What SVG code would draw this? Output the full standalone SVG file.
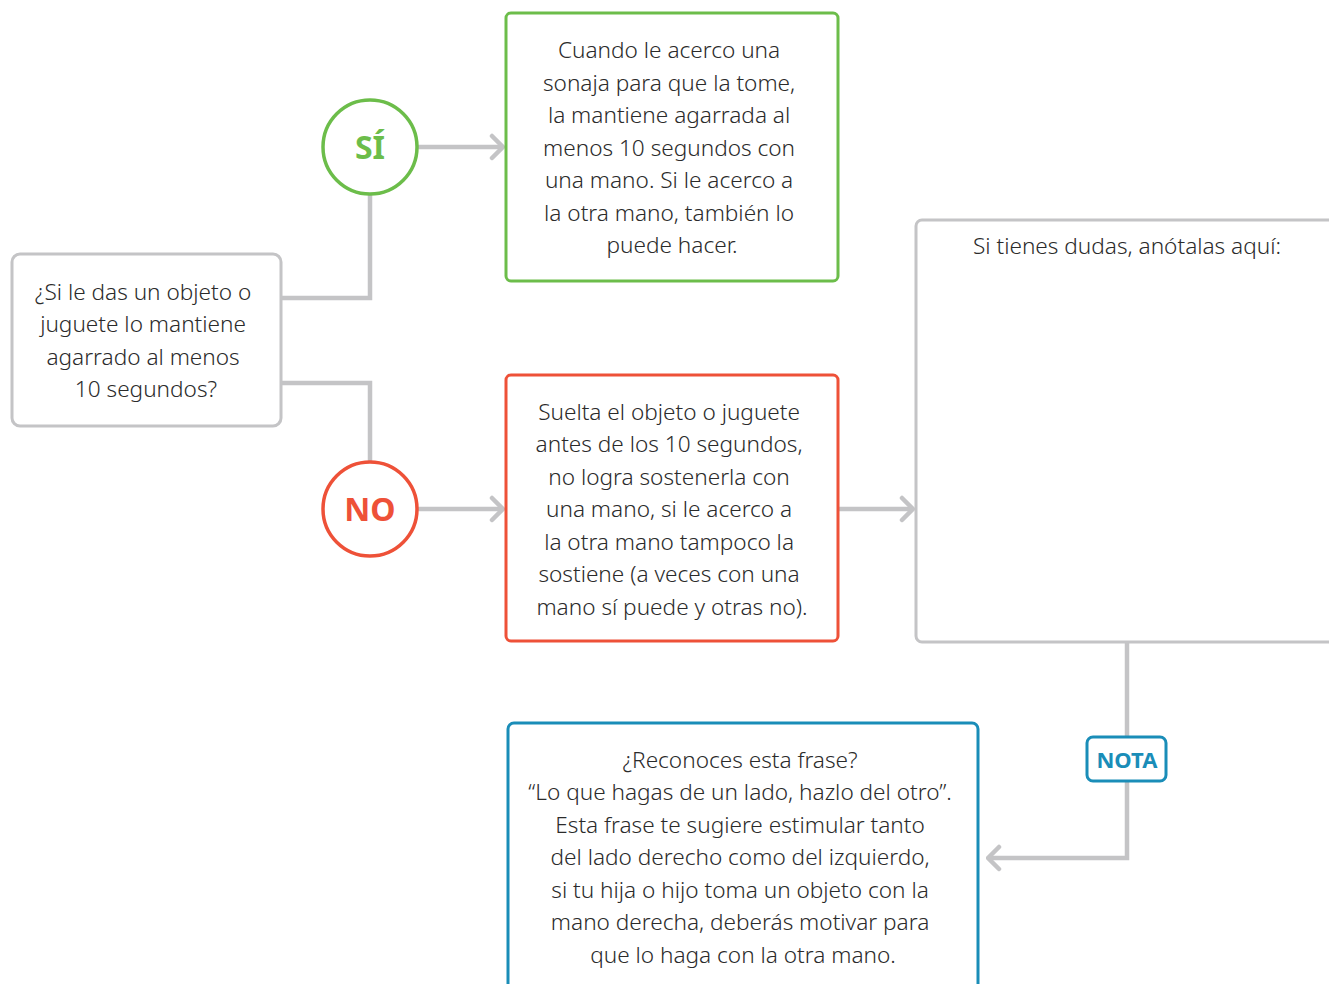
<svg xmlns="http://www.w3.org/2000/svg" width="1329" height="984" viewBox="0 0 1329 984">
  <style>
    .box { fill: #ffffff; stroke-width: 3; }
    .grey { stroke: #c4c4c6; }
    .txt { font-family: "Noto Sans", "Open Sans", sans-serif; font-weight: 300; font-size: 22.6px; fill: #2b2b2b; text-anchor: middle; }
    .badge { font-family: "Noto Sans", "Open Sans", sans-serif; font-weight: 700; text-anchor: middle; }
    .link { fill: none; stroke: #c4c4c6; stroke-width: 4.5; }
  </style>
  <defs>
    <marker id="chev" viewBox="0 0 16 28" refX="14" refY="14" markerWidth="16" markerHeight="28" markerUnits="userSpaceOnUse" orient="auto">
      <path d="M3 3 L14 14 L3 25" fill="none" stroke="#c4c4c6" stroke-width="4.5" stroke-linecap="round" stroke-linejoin="round"/>
    </marker>
  </defs>
  <rect width="1329" height="984" fill="#ffffff"/>

  <!-- connectors -->
  <g id="connectors">
    <path class="link" d="M281 298 H370 V194"/>
    <path class="link" d="M281 383 H370 V462"/>
    <path class="link" d="M417 147 H503" marker-end="url(#chev)"/>
    <path class="link" d="M417 509 H503" marker-end="url(#chev)"/>
    <path class="link" d="M838 509 H913" marker-end="url(#chev)"/>
    <path class="link" d="M1127 642 V737"/>
    <path class="link" d="M1127 781 V858 H988" marker-end="url(#chev)"/>
  </g>

  <!-- question -->
  <g id="question">
    <rect class="box grey" x="12" y="254" width="269" height="172" rx="8"/>
    <text class="txt">
      <tspan x="146" y="300">¿Si le das un objeto o</tspan>
      <tspan x="146" y="332">juguete lo mantiene</tspan>
      <tspan x="146" y="365">agarrado al menos</tspan>
      <tspan x="146" y="397">10 segundos?</tspan>
    </text>
  </g>

  <!-- yes branch -->
  <g id="yes">
    <circle cx="370" cy="147" r="47" fill="#ffffff" stroke="#6cbd4a" stroke-width="3.5"/>
    <text class="badge" x="370" y="159" font-size="32" fill="#6cbd4a">SÍ</text>
  </g>
  <g id="yes-result">
    <rect class="box" x="506" y="13" width="332" height="268" rx="5" stroke="#6cbd4a"/>
    <text class="txt">
      <tspan x="672" y="58">Cuando le acerco una</tspan>
      <tspan x="672" y="91">sonaja para que la tome,</tspan>
      <tspan x="672" y="123">la mantiene agarrada al</tspan>
      <tspan x="672" y="156">menos 10 segundos con</tspan>
      <tspan x="672" y="188">una mano. Si le acerco a</tspan>
      <tspan x="672" y="221">la otra mano, también lo</tspan>
      <tspan x="672" y="253">puede hacer.</tspan>
    </text>
  </g>

  <!-- no branch -->
  <g id="no">
    <circle cx="370" cy="509" r="47" fill="#ffffff" stroke="#ee5138" stroke-width="3.5"/>
    <text class="badge" x="370" y="521" font-size="32" fill="#ee5138">NO</text>
  </g>
  <g id="no-result">
    <rect class="box" x="506" y="375" width="332" height="266" rx="5" stroke="#ee5138"/>
    <text class="txt">
      <tspan x="672" y="420">Suelta el objeto o juguete</tspan>
      <tspan x="672" y="452">antes de los 10 segundos,</tspan>
      <tspan x="672" y="485">no logra sostenerla con</tspan>
      <tspan x="672" y="517">una mano, si le acerco a</tspan>
      <tspan x="672" y="550">la otra mano tampoco la</tspan>
      <tspan x="672" y="582">sostiene (a veces con una</tspan>
      <tspan x="672" y="615">mano sí puede y otras no).</tspan>
    </text>
  </g>

  <!-- notes area -->
  <g id="notes">
    <rect class="box grey" x="916" y="220" width="440" height="422" rx="6"/>
    <text class="txt" x="1127" y="254">Si tienes dudas, anótalas aquí:</text>
  </g>

  <!-- tip badge -->
  <g id="nota">
    <rect x="1087" y="737" width="79" height="44" rx="6" fill="#ffffff" stroke="#1a8db8" stroke-width="3"/>
    <text class="badge" x="1127" y="768" font-size="22" fill="#1a8db8">NOTA</text>
  </g>

  <!-- tip text -->
  <g id="tip">
    <rect class="box" x="508" y="723" width="470" height="290" rx="6" stroke="#1a8db8"/>
    <text class="txt">
      <tspan x="743" y="768">¿Reconoces esta frase?</tspan>
      <tspan x="743" y="800">“Lo que hagas de un lado, hazlo del otro”.</tspan>
      <tspan x="743" y="833">Esta frase te sugiere estimular tanto</tspan>
      <tspan x="743" y="865">del lado derecho como del izquierdo,</tspan>
      <tspan x="743" y="898">si tu hija o hijo toma un objeto con la</tspan>
      <tspan x="743" y="930">mano derecha, deberás motivar para</tspan>
      <tspan x="743" y="963">que lo haga con la otra mano.</tspan>
    </text>
  </g>
</svg>
